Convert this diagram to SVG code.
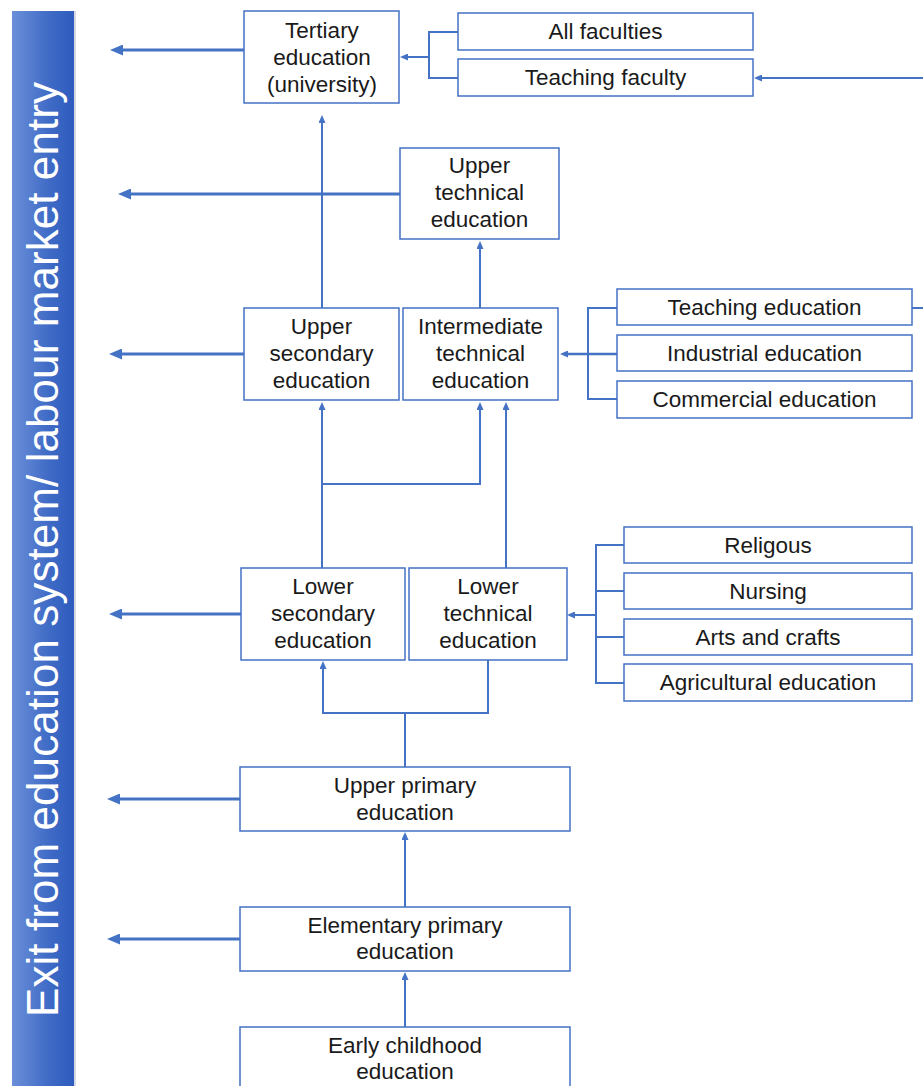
<svg xmlns="http://www.w3.org/2000/svg" width="923" height="1086" viewBox="0 0 923 1086">
<style>
.box{fill:#fff;stroke:#4472c4;stroke-width:1.5}
.t{font-family:"Liberation Sans",Arial,sans-serif;font-size:22.5px;fill:#1a1a1a;text-anchor:middle}
.thick{fill:none;stroke:#4472c4;stroke-width:3}
.thin{fill:none;stroke:#4472c4;stroke-width:2}
.mid{fill:none;stroke:#4472c4;stroke-width:2.6}
.bar{font-family:"Liberation Sans",Arial,sans-serif;font-size:44px;fill:#fff}
</style>
<defs>
<linearGradient id="g" x1="0" y1="0" x2="1" y2="0">
<stop offset="0" stop-color="#6b8fd8"/>
<stop offset="0.6" stop-color="#3f6bc6"/>
<stop offset="1" stop-color="#2e5bbd"/>
</linearGradient>
<marker id="ah" markerUnits="userSpaceOnUse" viewBox="0 0 13 11" markerWidth="13" markerHeight="11" refX="6" refY="5.5" orient="auto">
<path d="M0,0 L13,5.5 L0,11 z" fill="#4472c4"/>
</marker>
<marker id="as" markerUnits="userSpaceOnUse" viewBox="0 0 8 7" markerWidth="8" markerHeight="7" refX="3" refY="3.5" orient="auto">
<path d="M0,0 L8,3.5 L0,7 z" fill="#4472c4"/>
</marker>
</defs>
<rect width="923" height="1086" fill="#fff"/>
<g id="sidebar">
<rect x="12" y="11" width="62" height="1085" fill="url(#g)"/>
<rect x="74" y="11" width="2" height="1085" fill="#d4d9e2"/>
<text class="bar" transform="translate(58,1017) rotate(-90)" textLength="935" lengthAdjust="spacing">Exit from education system/ labour market entry</text>
</g>
<g id="connectors">
<line class="thick" x1="244" y1="50" x2="117" y2="50" marker-end="url(#ah)"/>
<line class="thick" x1="400" y1="194" x2="125" y2="194" marker-end="url(#ah)"/>
<line class="thick" x1="244" y1="354" x2="116" y2="354" marker-end="url(#ah)"/>
<line class="thick" x1="241" y1="614" x2="116" y2="614" marker-end="url(#ah)"/>
<line class="thick" x1="240" y1="799" x2="114" y2="799" marker-end="url(#ah)"/>
<line class="thick" x1="240" y1="939" x2="114" y2="939" marker-end="url(#ah)"/>
<line class="thin" x1="322" y1="308" x2="322" y2="120" marker-end="url(#as)"/>
<line class="thin" x1="480" y1="308" x2="480" y2="246" marker-end="url(#as)"/>
<path class="thin" d="M458,32 H429 V78 H458"/>
<line class="thin" x1="429" y1="57" x2="405" y2="57" marker-end="url(#as)"/>
<line class="thin" x1="923" y1="78" x2="759" y2="78" marker-end="url(#as)"/>
<line class="thin" x1="322" y1="568" x2="322" y2="407" marker-end="url(#as)"/>
<path class="thin" d="M322,484 H480 V407" marker-end="url(#as)"/>
<line class="thin" x1="506" y1="568" x2="506" y2="407" marker-end="url(#as)"/>
<path class="thin" d="M617,308 H588 V399 H617"/>
<line class="mid" x1="617" y1="354" x2="565" y2="354" marker-end="url(#as)"/>
<line class="thin" x1="912" y1="308" x2="923" y2="308"/>
<path class="thin" d="M624,545 H596 V683 H624 M596,591 H624 M596,637 H624"/>
<line class="thin" x1="596" y1="615" x2="572" y2="615" marker-end="url(#as)"/>
<path class="thin" d="M488,660 V713 H323 V666" marker-end="url(#as)"/>
<line class="thin" x1="405" y1="713" x2="405" y2="767"/>
<line class="thin" x1="405" y1="907" x2="405" y2="837" marker-end="url(#as)"/>
<line class="thin" x1="405" y1="1027" x2="405" y2="977" marker-end="url(#as)"/>
</g>
<g id="tertiary"><rect class="box" x="244" y="11" width="155" height="92"/><text class="t" x="322" y="38">Tertiary</text><text class="t" x="322" y="65">education</text><text class="t" x="322" y="92">(university)</text></g>
<g id="all-faculties"><rect class="box" x="458" y="13" width="295" height="37"/><text class="t" x="605.5" y="39">All faculties</text></g>
<g id="teaching-faculty"><rect class="box" x="458" y="59" width="295" height="37"/><text class="t" x="605.5" y="85">Teaching faculty</text></g>
<g id="upper-technical"><rect class="box" x="400" y="148" width="159" height="91"/><text class="t" x="479.5" y="173">Upper</text><text class="t" x="479.5" y="200">technical</text><text class="t" x="479.5" y="227">education</text></g>
<g id="upper-secondary"><rect class="box" x="244" y="308" width="155" height="92"/><text class="t" x="321.5" y="334">Upper</text><text class="t" x="321.5" y="361">secondary</text><text class="t" x="321.5" y="388">education</text></g>
<g id="intermediate-technical"><rect class="box" x="403" y="308" width="155" height="92"/><text class="t" x="480.5" y="334">Intermediate</text><text class="t" x="480.5" y="361">technical</text><text class="t" x="480.5" y="388">education</text></g>
<g id="teaching-education"><rect class="box" x="617" y="289" width="295" height="36"/><text class="t" x="764.5" y="315">Teaching education</text></g>
<g id="industrial-education"><rect class="box" x="617" y="335" width="295" height="36"/><text class="t" x="764.5" y="361">Industrial education</text></g>
<g id="commercial-education"><rect class="box" x="617" y="381" width="295" height="37"/><text class="t" x="764.5" y="407">Commercial education</text></g>
<g id="lower-secondary"><rect class="box" x="241" y="568" width="164" height="92"/><text class="t" x="323" y="594">Lower</text><text class="t" x="323" y="621">secondary</text><text class="t" x="323" y="648">education</text></g>
<g id="lower-technical"><rect class="box" x="409" y="568" width="158" height="92"/><text class="t" x="488" y="594">Lower</text><text class="t" x="488" y="621">technical</text><text class="t" x="488" y="648">education</text></g>
<g id="religous"><rect class="box" x="624" y="527" width="288" height="36"/><text class="t" x="768" y="553">Religous</text></g>
<g id="nursing"><rect class="box" x="624" y="573" width="288" height="36"/><text class="t" x="768" y="599">Nursing</text></g>
<g id="arts-crafts"><rect class="box" x="624" y="619" width="288" height="36"/><text class="t" x="768" y="645">Arts and crafts</text></g>
<g id="agricultural"><rect class="box" x="624" y="664" width="288" height="37"/><text class="t" x="768" y="690">Agricultural education</text></g>
<g id="upper-primary"><rect class="box" x="240" y="767" width="330" height="64"/><text class="t" x="405" y="793">Upper primary</text><text class="t" x="405" y="820">education</text></g>
<g id="elementary-primary"><rect class="box" x="240" y="907" width="330" height="64"/><text class="t" x="405" y="933">Elementary primary</text><text class="t" x="405" y="959">education</text></g>
<g id="early-childhood"><rect class="box" x="240" y="1027" width="330" height="70"/><text class="t" x="405" y="1053">Early childhood</text><text class="t" x="405" y="1079">education</text></g>
</svg>
